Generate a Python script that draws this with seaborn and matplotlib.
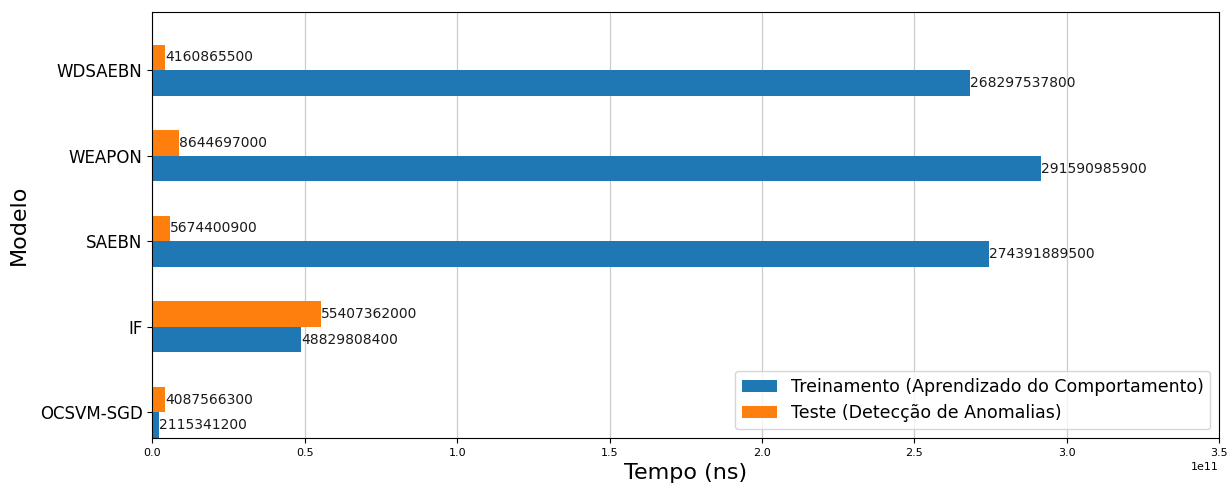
import pandas as pd
import seaborn as sns
import matplotlib.pyplot as plt

modelos = ['OCSVM-SGD', 'IF', 'SAEBN', 'WEAPON', 'WDSAEBN']
treino = [2115341200, 48829808400, 274391889500, 291590985900, 268297537800]
teste = [4087566300, 55407362000, 5674400900, 8644697000, 4160865500]
fases = ['Treinamento (Aprendizado do Comportamento)',
         'Teste (Detecção de Anomalias)']
cores = ['#1f77b4', '#ff7f0e']


def main():
    df = pd.DataFrame({
        'Modelo': modelos * 2,
        'Tempo': treino + teste,
        'Fase': [fases[0]] * len(modelos) + [fases[1]] * len(modelos),
    })

    fig, ax = plt.subplots(figsize=(12.29, 4.84), dpi=100)
    sns.barplot(data=df, y='Modelo', x='Tempo', hue='Fase', order=modelos,
                hue_order=fases, palette=cores, orient='h', width=0.6,
                saturation=1, errorbar=None, linewidth=0, ax=ax)

    # keep OCSVM-SGD at the bottom like pandas does
    ax.set_ylim(-0.3, 4.68)
    ax.set_xlim(0, 3.5e11)

    for cont, vals in zip(ax.containers, [treino, teste]):
        ax.bar_label(cont, labels=[str(v) for v in vals], fontsize=10,
                     color='#1a1a1a')

    ax.set_axisbelow(True)
    ax.xaxis.grid(True, color='#cccccc', linewidth=0.9)
    ax.yaxis.grid(False)
    for s in ax.spines.values():
        s.set_visible(True)
        s.set_color('black')

    ax.tick_params(axis='y', labelsize=12)
    ax.tick_params(axis='x', labelsize=8)
    ax.xaxis.get_offset_text().set_fontsize(8)
    ax.set_xlabel('Tempo (ns)', fontsize=16)
    ax.set_ylabel('Modelo', fontsize=16, labelpad=8)

    handles, labels = ax.get_legend_handles_labels()
    ax.legend(handles, labels, loc='lower right', fontsize=12.5)

    fig.subplots_adjust(left=0.124, right=0.992, top=0.975, bottom=0.095)
    fig.savefig('out.png', dpi=100)


if __name__ == '__main__':
    main()
